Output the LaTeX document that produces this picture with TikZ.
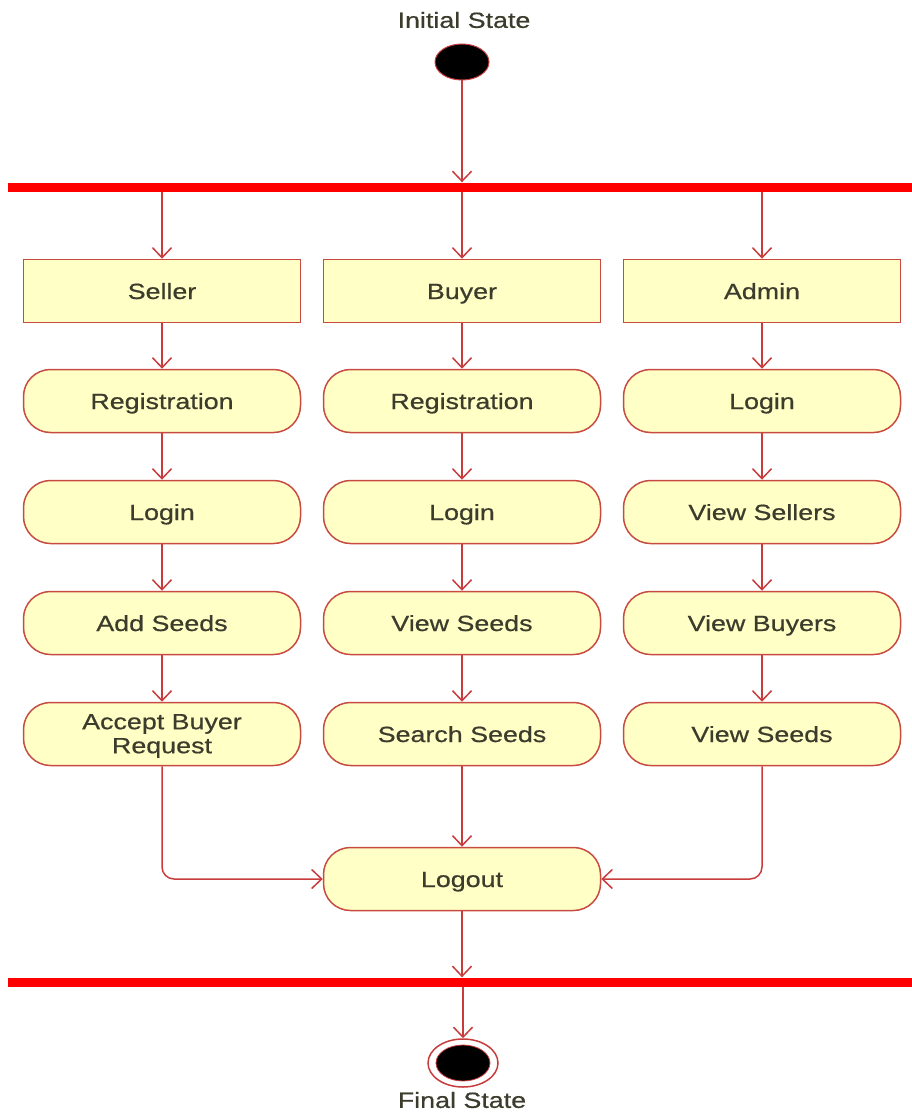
\documentclass[tikz,border=0pt]{standalone}
\usepackage{fontspec}
\setmainfont{Liberation Sans}[FakeStretch=1.22,FakeBold=0.6]
\usetikzlibrary{arrows.meta,shapes.geometric}
\definecolor{ln}{RGB}{200,60,60}
\definecolor{bd}{RGB}{200,75,65}
\definecolor{fl}{RGB}{255,255,198}
\definecolor{tx}{RGB}{60,60,45}
\begin{document}
\begin{tikzpicture}[x=1pt,y=-1pt,
  act/.style={draw=bd, line width=1.5pt, fill=fl, minimum width=277pt, minimum height=63pt,
    rounded corners=27pt, font=\fontsize{22}{24}\selectfont, text=tx, align=center, inner sep=0pt,
    text height=16pt, text depth=0pt},
  role/.style={act, rounded corners=0pt},
  flow/.style={draw=ln, line width=1.5pt, -{Straight Barb[length=10pt,width=19pt]}},
  bar/.style={fill=red, draw=none, minimum width=904pt, minimum height=9pt, inner sep=0pt},
  lbl/.style={font=\fontsize{22}{24}\selectfont, text=tx}]
\useasboundingbox (0,0) rectangle (912,1113);

\node[lbl] (initlbl) at (464,20) {Initial State};
\node[draw=ln, line width=1pt, fill=black, ellipse, minimum width=54pt, minimum height=36pt, inner sep=0pt] (init) at (462,62) {};

\node[bar] (fork) at (460,187) {};
\node[bar] (join) at (460,982) {};

\node[role] (seller) at (162,291) {Seller};
\node[role] (buyer) at (462,291) {Buyer};
\node[role] (admin) at (762,291) {Admin};

\node[act] (sreg) at (162,401) {Registration};
\node[act] (slog) at (162,512) {Login};
\node[act] (sadd) at (162,623) {Add Seeds};
\node[act, text height={}, text depth={}] (sacc) at (162,734) {\rule{0pt}{19pt}Accept Buyer\\Request};

\node[act] (breg) at (462,401) {Registration};
\node[act] (blog) at (462,512) {Login};
\node[act] (bview) at (462,623) {View Seeds};
\node[act] (bsearch) at (462,734) {Search Seeds};

\node[act] (alog) at (762,401) {Login};
\node[act] (asel) at (762,512) {View Sellers};
\node[act] (abuy) at (762,623) {View Buyers};
\node[act] (aseeds) at (762,734) {View Seeds};

\node[act] (logout) at (462,879) {Logout};

\node[draw=ln, line width=1.5pt, fill=white, ellipse, minimum width=70pt, minimum height=48pt, inner sep=0pt] (final) at (463,1063) {};
\node[fill=black, draw=ln, line width=0.8pt, ellipse, minimum width=54pt, minimum height=36pt, inner sep=0pt] (finalin) at (final.center) {};
\node[lbl] (finallbl) at (462,1100) {Final State};

\draw[flow] (init) -- (init |- fork.north);
\draw[flow] (fork.south -| seller) -- (seller);
\draw[flow] (fork.south -| buyer) -- (buyer);
\draw[flow] (fork.south -| admin) -- (admin);

\draw[flow] (seller) -- (sreg);
\draw[flow] (sreg) -- (slog);
\draw[flow] (slog) -- (sadd);
\draw[flow] (sadd) -- (sacc);

\draw[flow] (buyer) -- (breg);
\draw[flow] (breg) -- (blog);
\draw[flow] (blog) -- (bview);
\draw[flow] (bview) -- (bsearch);
\draw[flow] (bsearch) -- (logout);

\draw[flow] (admin) -- (alog);
\draw[flow] (alog) -- (asel);
\draw[flow] (asel) -- (abuy);
\draw[flow] (abuy) -- (aseeds);

\draw[flow, rounded corners=12pt] (sacc.south) |- (logout.west);
\draw[flow, rounded corners=12pt] (aseeds.south) |- (logout.east);

\draw[flow] (logout) -- (logout |- join.north);
\draw[flow] (join.south -| final) -- (final);
\end{tikzpicture}
\end{document}
